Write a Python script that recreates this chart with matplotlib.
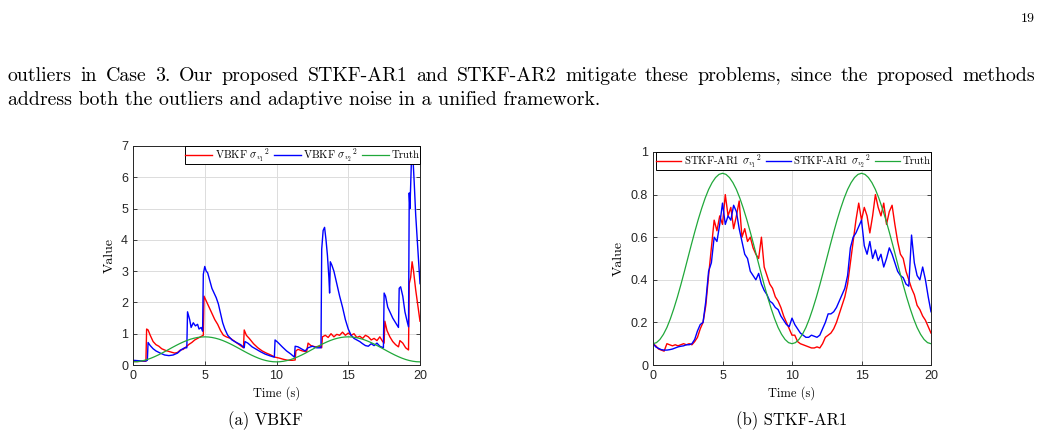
import numpy as np
import matplotlib
matplotlib.use('Agg')
import matplotlib.pyplot as plt

plt.rcParams['mathtext.fontset'] = 'cm'

# ---- data ----
# truth noise variance, sampled every 0.25 s
truth_t = np.arange(0, 20.001, 0.25)
truth_v = [0.100, 0.105, 0.120, 0.144, 0.176, 0.217, 0.265, 0.318, 0.376, 0.437,
           0.500, 0.563, 0.624, 0.682, 0.735, 0.783, 0.824, 0.856, 0.880, 0.895,
           0.900, 0.895, 0.880, 0.856, 0.824, 0.783, 0.735, 0.682, 0.624, 0.563,
           0.500, 0.437, 0.376, 0.318, 0.265, 0.217, 0.176, 0.144, 0.120, 0.105,
           0.100, 0.105, 0.120, 0.144, 0.176, 0.217, 0.265, 0.318, 0.376, 0.437,
           0.500, 0.563, 0.624, 0.682, 0.735, 0.783, 0.824, 0.856, 0.880, 0.895,
           0.900, 0.895, 0.880, 0.856, 0.824, 0.783, 0.735, 0.682, 0.624, 0.563,
           0.500, 0.437, 0.376, 0.318, 0.265, 0.217, 0.176, 0.144, 0.120, 0.105,
           0.100]

# (a) VBKF
vb1_t = [0.0, 0.3, 0.6, 0.9, 0.95, 1.05, 1.2, 1.4, 1.6, 1.8, 2.0, 2.3, 2.6, 2.9, 3.1, 3.3,
         3.5, 3.7, 3.9, 4.1, 4.3, 4.5, 4.7, 4.9, 4.95, 5.05, 5.15, 5.3, 5.5, 5.7, 5.9, 6.1,
         6.3, 6.5, 6.8, 7.1, 7.4, 7.7, 7.75, 7.9, 8.1, 8.4, 8.7, 9.0, 9.3, 9.6, 9.9, 10.2,
         10.5, 10.8, 11.1, 11.3, 11.35, 11.5, 11.8, 12.1, 12.2, 12.4, 12.7, 13.0, 13.15, 13.2,
         13.4, 13.6, 13.8, 14.0, 14.2, 14.4, 14.6, 14.8, 15.0, 15.2, 15.4, 15.6, 15.8, 16.0,
         16.2, 16.4, 16.6, 16.8, 17.0, 17.2, 17.4, 17.5, 17.55, 17.7, 17.9, 18.1, 18.3, 18.5,
         18.6, 18.8, 19.0, 19.2, 19.25, 19.35, 19.45, 19.55, 19.7, 19.85, 20.0]
vb1_v = [0.12, 0.11, 0.12, 0.12, 1.15, 1.12, 0.95, 0.75, 0.65, 0.60, 0.52, 0.46, 0.42, 0.38, 0.40, 0.48,
         0.50, 0.58, 0.66, 0.72, 0.80, 0.85, 0.90, 0.95, 2.20, 2.10, 2.00, 1.85, 1.65, 1.45, 1.30, 1.10,
         0.95, 0.90, 0.85, 0.75, 0.65, 0.55, 1.12, 0.95, 0.85, 0.68, 0.55, 0.45, 0.38, 0.32, 0.25, 0.22,
         0.18, 0.15, 0.15, 0.16, 0.45, 0.50, 0.45, 0.42, 0.70, 0.62, 0.58, 0.60, 0.55, 0.90,
         0.95, 0.88, 1.00, 0.90, 0.98, 0.95, 1.05, 0.95, 1.02, 0.95, 1.00, 0.88, 0.92, 0.85,
         0.95, 0.90, 0.80, 0.85, 0.78, 0.90, 0.75, 0.70, 1.40, 1.10, 0.90, 0.75, 0.65, 0.58,
         0.78, 0.70, 0.55, 0.48, 2.60, 2.80, 3.30, 3.00, 2.40, 1.90, 1.40]

vb2_t = [0.0, 0.3, 0.6, 0.9, 1.0, 1.05, 1.2, 1.4, 1.6, 1.9, 2.2, 2.5, 2.8, 3.1, 3.4, 3.6, 3.75,
         3.8, 3.95, 4.05, 4.2, 4.35, 4.5, 4.6, 4.75, 4.85, 4.9, 5.0, 5.1, 5.2, 5.35, 5.5, 5.65,
         5.8, 5.95, 6.1, 6.25, 6.4, 6.6, 6.9, 7.2, 7.5, 7.75, 7.8, 8.0, 8.3, 8.6, 8.9, 9.2, 9.5,
         9.85, 9.9, 10.1, 10.4, 10.7, 11.0, 11.25, 11.3, 11.5, 11.8, 12.0, 12.2, 12.5, 12.8, 13.1,
         13.15, 13.25, 13.35, 13.45, 13.55, 13.65, 13.7, 13.75, 13.85, 14.0, 14.2, 14.4, 14.6,
         14.8, 15.0, 15.2, 15.4, 15.6, 15.8, 16.0, 16.2, 16.4, 16.6, 16.8, 17.0, 17.2, 17.45,
         17.5, 17.6, 17.75, 17.9, 18.1, 18.3, 18.5, 18.55, 18.65, 18.8, 18.95, 19.1, 19.2, 19.25,
         19.3, 19.4, 19.5, 19.6, 19.7, 19.85, 20.0]
vb2_v = [0.15, 0.14, 0.13, 0.13, 0.15, 0.72, 0.62, 0.52, 0.45, 0.38, 0.32, 0.30, 0.32, 0.38, 0.50, 0.55, 0.55,
         1.70, 1.45, 1.20, 1.35, 1.25, 1.30, 1.15, 1.20, 1.08, 2.90, 3.15, 3.00, 2.95, 2.70, 2.45, 2.30,
         2.15, 1.95, 1.65, 1.35, 1.15, 0.95, 0.80, 0.72, 0.65, 0.55, 0.75, 0.70, 0.58, 0.50, 0.42, 0.35, 0.30,
         0.25, 0.80, 0.72, 0.58, 0.45, 0.35, 0.25, 0.60, 0.58, 0.50, 0.45, 0.55, 0.60, 0.55, 0.55,
         3.70, 4.30, 4.40, 4.00, 3.50, 2.80, 2.30, 3.30, 3.20, 3.00, 2.60, 2.20, 1.85,
         1.45, 1.15, 0.95, 0.85, 0.80, 0.75, 0.68, 0.62, 0.60, 0.68, 0.62, 0.70, 0.60, 0.55,
         2.30, 2.20, 1.85, 1.70, 1.50, 1.35, 1.20, 2.45, 2.50, 2.20, 1.70, 1.40, 1.22, 5.50,
         5.00, 6.50, 6.70, 5.80, 4.80, 3.70, 2.60]

# (b) STKF-AR1, sampled every 0.2 s
st_t = np.arange(0, 20.001, 0.2)
st1_v = [0.100, 0.090, 0.075, 0.070, 0.065, 0.100, 0.095, 0.090, 0.095, 0.090,
         0.095, 0.100, 0.095, 0.100, 0.095, 0.110, 0.130, 0.170, 0.200, 0.280,
         0.420, 0.550, 0.680, 0.630, 0.700, 0.660, 0.800, 0.700, 0.740, 0.640,
         0.700, 0.770, 0.600, 0.640, 0.580, 0.600, 0.550, 0.520, 0.500, 0.600,
         0.460, 0.420, 0.380, 0.360, 0.320, 0.300, 0.270, 0.230, 0.200, 0.170,
         0.140, 0.140, 0.110, 0.100, 0.095, 0.090, 0.085, 0.080, 0.080, 0.085,
         0.080, 0.100, 0.130, 0.140, 0.150, 0.170, 0.200, 0.240, 0.280, 0.320,
         0.380, 0.480, 0.580, 0.680, 0.760, 0.680, 0.740, 0.700, 0.620, 0.700,
         0.800, 0.740, 0.700, 0.760, 0.660, 0.720, 0.750, 0.660, 0.580, 0.520,
         0.500, 0.440, 0.400, 0.360, 0.330, 0.280, 0.260, 0.230, 0.210, 0.180,
         0.150]
st2_v = [0.100, 0.085, 0.078, 0.072, 0.070, 0.070, 0.072, 0.075, 0.080, 0.085,
         0.088, 0.090, 0.095, 0.095, 0.100, 0.120, 0.160, 0.190, 0.200, 0.300,
         0.440, 0.480, 0.600, 0.580, 0.660, 0.760, 0.660, 0.700, 0.680, 0.750,
         0.720, 0.640, 0.580, 0.520, 0.500, 0.440, 0.420, 0.400, 0.430, 0.380,
         0.350, 0.330, 0.300, 0.290, 0.270, 0.260, 0.230, 0.210, 0.190, 0.180,
         0.220, 0.190, 0.170, 0.150, 0.140, 0.130, 0.130, 0.140, 0.135, 0.130,
         0.140, 0.170, 0.200, 0.240, 0.240, 0.250, 0.270, 0.300, 0.330, 0.360,
         0.420, 0.550, 0.600, 0.620, 0.650, 0.680, 0.560, 0.520, 0.580, 0.500,
         0.540, 0.490, 0.520, 0.460, 0.500, 0.550, 0.520, 0.480, 0.440, 0.420,
         0.410, 0.380, 0.370, 0.610, 0.480, 0.420, 0.400, 0.460, 0.400, 0.320,
         0.250]

line1 = ("outliers in Case 3. Our proposed STKF-AR1 and STKF-AR2 mitigate these "
         "problems, since the proposed methods")
line2 = "address both the outliers and adaptive noise in a unified framework."

W, H = 1041, 436
fig = plt.figure(figsize=(W / 100, H / 100), dpi=100)

red, blue, green = '#ff0000', '#0000ff', '#20a83a'
tick_font = 'Liberation Sans'
serif = 'cmr10'


def setup(ax, ylim, yticks, yticklabels):
    ax.set_xlim(0, 20)
    ax.set_ylim(*ylim)
    ax.set_xticks([0, 5, 10, 15, 20])
    ax.set_yticks(yticks)
    ax.set_yticklabels(yticklabels)
    ax.grid(True, color='#dcdcdc', linewidth=0.7)
    ax.set_axisbelow(True)
    ax.tick_params(direction='in', length=3, width=0.6, colors='#262626',
                   labelsize=9, top=True, right=True)
    for lab in ax.get_xticklabels() + ax.get_yticklabels():
        lab.set_fontfamily(tick_font)
    for s in ax.spines.values():
        s.set_linewidth(0.7)
        s.set_color('#262626')
    ax.set_xlabel('Time (s)', fontfamily=serif, fontsize=9, labelpad=3)
    ax.set_ylabel('Value', fontfamily=serif, fontsize=10, labelpad=4)


ax1 = fig.add_axes([133 / W, 1 - 365 / H, 287 / W, 219 / H])
ax1.plot(vb1_t, vb1_v, color=red, lw=1.0, label=r'VBKF $\sigma_{v_1}{}^2$')
ax1.plot(vb2_t, vb2_v, color=blue, lw=1.0, label=r'VBKF $\sigma_{v_2}{}^2$')
ax1.plot(truth_t, truth_v, color=green, lw=0.9, label='Truth')
setup(ax1, (0, 7), range(8), [str(i) for i in range(8)])

ax2 = fig.add_axes([653 / W, 1 - 365 / H, 278 / W, 213 / H])
ax2.plot(st_t, st1_v, color=red, lw=1.0, label=r'STKF-AR1 $\sigma_{v_1}{}^2$')
ax2.plot(st_t, st2_v, color=blue, lw=1.0, label=r'STKF-AR1 $\sigma_{v_2}{}^2$')
ax2.plot(truth_t, truth_v, color=green, lw=0.9, label='Truth')
setup(ax2, (0, 1), [0, 0.2, 0.4, 0.6, 0.8, 1], ['0', '0.2', '0.4', '0.6', '0.8', '1'])

for ax, hl in ((ax1, 2.5), (ax2, 2.3)):
    leg = ax.legend(loc='upper right', ncol=3, fancybox=False, framealpha=1,
                    edgecolor='black', borderpad=0.02, handlelength=hl,
                    handletextpad=0.25, columnspacing=0.4, borderaxespad=0.0,
                    prop={'family': serif, 'size': 7.8})
    leg.get_frame().set_linewidth(0.7)

fig.text(265 / W, 1 - 421 / H, '(a) VBKF', fontfamily=serif, fontsize=12,
         ha='center', va='center')
fig.text(792 / W, 1 - 421 / H, '(b) STKF-AR1', fontfamily=serif, fontsize=12,
         ha='center', va='center')
fig.text(1035 / W, 1 - 19 / H, '19', fontfamily=serif, fontsize=10,
         ha='right', va='center')

# justified first paragraph line
fs = 14.3
words = line1.split(' ')
texts = [fig.text(0, 1 - 81 / H, w, fontfamily=serif, fontsize=fs, va='baseline')
         for w in words]
fig.canvas.draw()
r = fig.canvas.get_renderer()
widths = [t.get_window_extent(r).width for t in texts]
x0, x1 = 8, 1035
gap = (x1 - x0 - sum(widths)) / (len(words) - 1)
x = x0
for t, w in zip(texts, widths):
    t.set_x(x / W)
    x += w + gap
fig.text(x0 / W, 1 - 105 / H, line2, fontfamily=serif, fontsize=fs, va='baseline')

fig.savefig('out.png', dpi=100)
